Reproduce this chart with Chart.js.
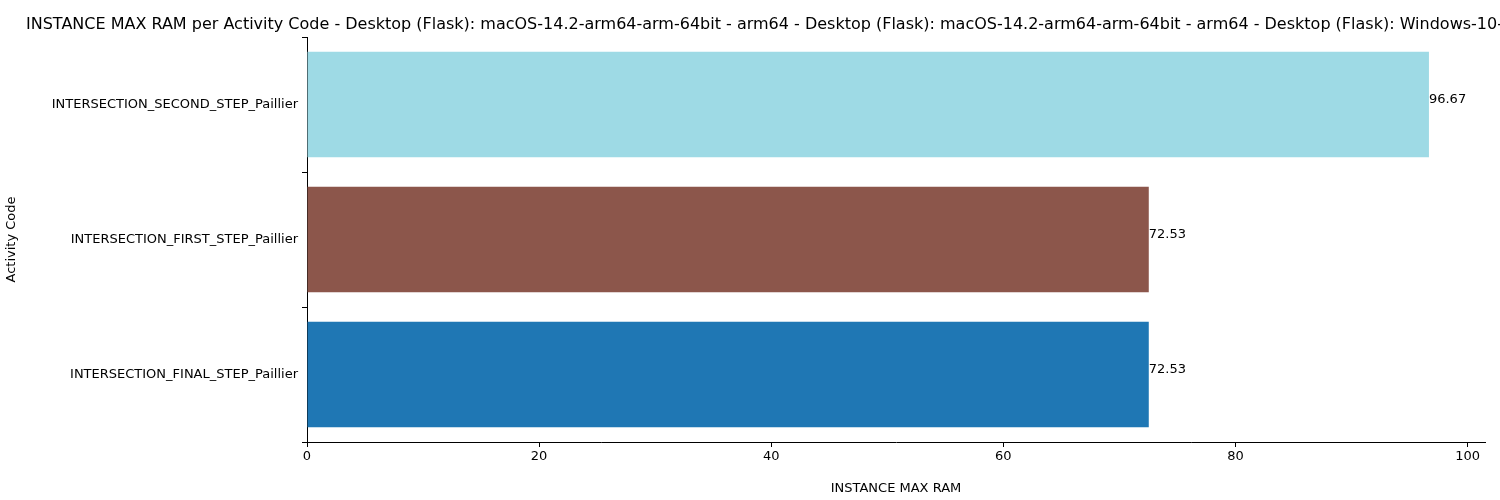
<!DOCTYPE html>
<html>
<head>
<meta charset="utf-8">
<script src="https://cdn.jsdelivr.net/npm/chart.js@4"></script>
<style>
  html, body { margin: 0; padding: 0; background: #fff; }
  #wrap { width: 1500px; height: 500px; }
</style>
</head>
<body>
<div id="wrap"><canvas id="chart" width="1500" height="500"></canvas></div>
<script>
const categories = [
  'INTERSECTION_SECOND_STEP_Paillier',
  'INTERSECTION_FIRST_STEP_Paillier',
  'INTERSECTION_FINAL_STEP_Paillier'
];
const ramValues = [96.67, 72.53, 72.53];
const barColors = ['#9edae5', '#8c564b', '#1f77b4'];
const xTicks = [0, 20, 40, 60, 80, 100];
const titleText = 'INSTANCE MAX RAM per Activity Code - Desktop (Flask): macOS-14.2-arm64-arm-64bit - arm64 - Desktop (Flask): macOS-14.2-arm64-arm-64bit - arm64 - Desktop (Flask): Windows-10-10.0.19045-SP0 - AMD64';

const font = 'DejaVu Sans';

const extras = {
  id: 'extras',
  afterDatasetsDraw(chart) {
    const ctx = chart.ctx;
    const meta = chart.getDatasetMeta(0);
    ctx.save();
    ctx.fillStyle = '#000';
    ctx.font = '13px "' + font + '"';
    ctx.textAlign = 'left';
    ctx.textBaseline = 'middle';
    meta.data.forEach((bar, i) => {
      ctx.fillText(ramValues[i].toFixed(2), bar.x, bar.y - 5);
    });
    ctx.font = '16px "' + font + '"';
    ctx.textBaseline = 'alphabetic';
    ctx.fillText(titleText, 26, 29);
    ctx.restore();
  }
};

new Chart(document.getElementById('chart'), {
  type: 'bar',
  data: {
    labels: categories,
    datasets: [{
      data: ramValues,
      backgroundColor: barColors,
      barPercentage: 0.78,
      categoryPercentage: 1.0
    }]
  },
  options: {
    indexAxis: 'y',
    responsive: false,
    animation: false,
    layout: { padding: { top: 37, right: 15, left: 0, bottom: 0 } },
    plugins: { legend: { display: false }, tooltip: { enabled: false }, title: { display: false } },
    scales: {
      x: {
        min: 0,
        max: 101.5,
        afterBuildTicks(axis) { axis.ticks = xTicks.map(v => ({ value: v })); },
        afterFit(axis) { axis.height = 58; },
        border: { color: '#000' },
        grid: { drawOnChartArea: false, tickLength: 5, color: '#000' },
        ticks: { color: '#000', font: { family: font, size: 13 }, padding: 2 },
        title: { display: true, text: 'INSTANCE MAX RAM', color: '#000', font: { family: font, size: 13 }, padding: { top: 6 } }
      },
      y: {
        afterFit(axis) { axis.width = 307; },
        border: { color: '#000' },
        grid: { drawOnChartArea: false, tickLength: 5, color: '#000' },
        ticks: { color: '#000', font: { family: font, size: 13 }, padding: 4 },
        title: { display: true, text: 'Activity Code', color: '#000', font: { family: font, size: 13 }, padding: { bottom: 4 } }
      }
    }
  },
  plugins: [extras]
});
</script>
</body>
</html>
